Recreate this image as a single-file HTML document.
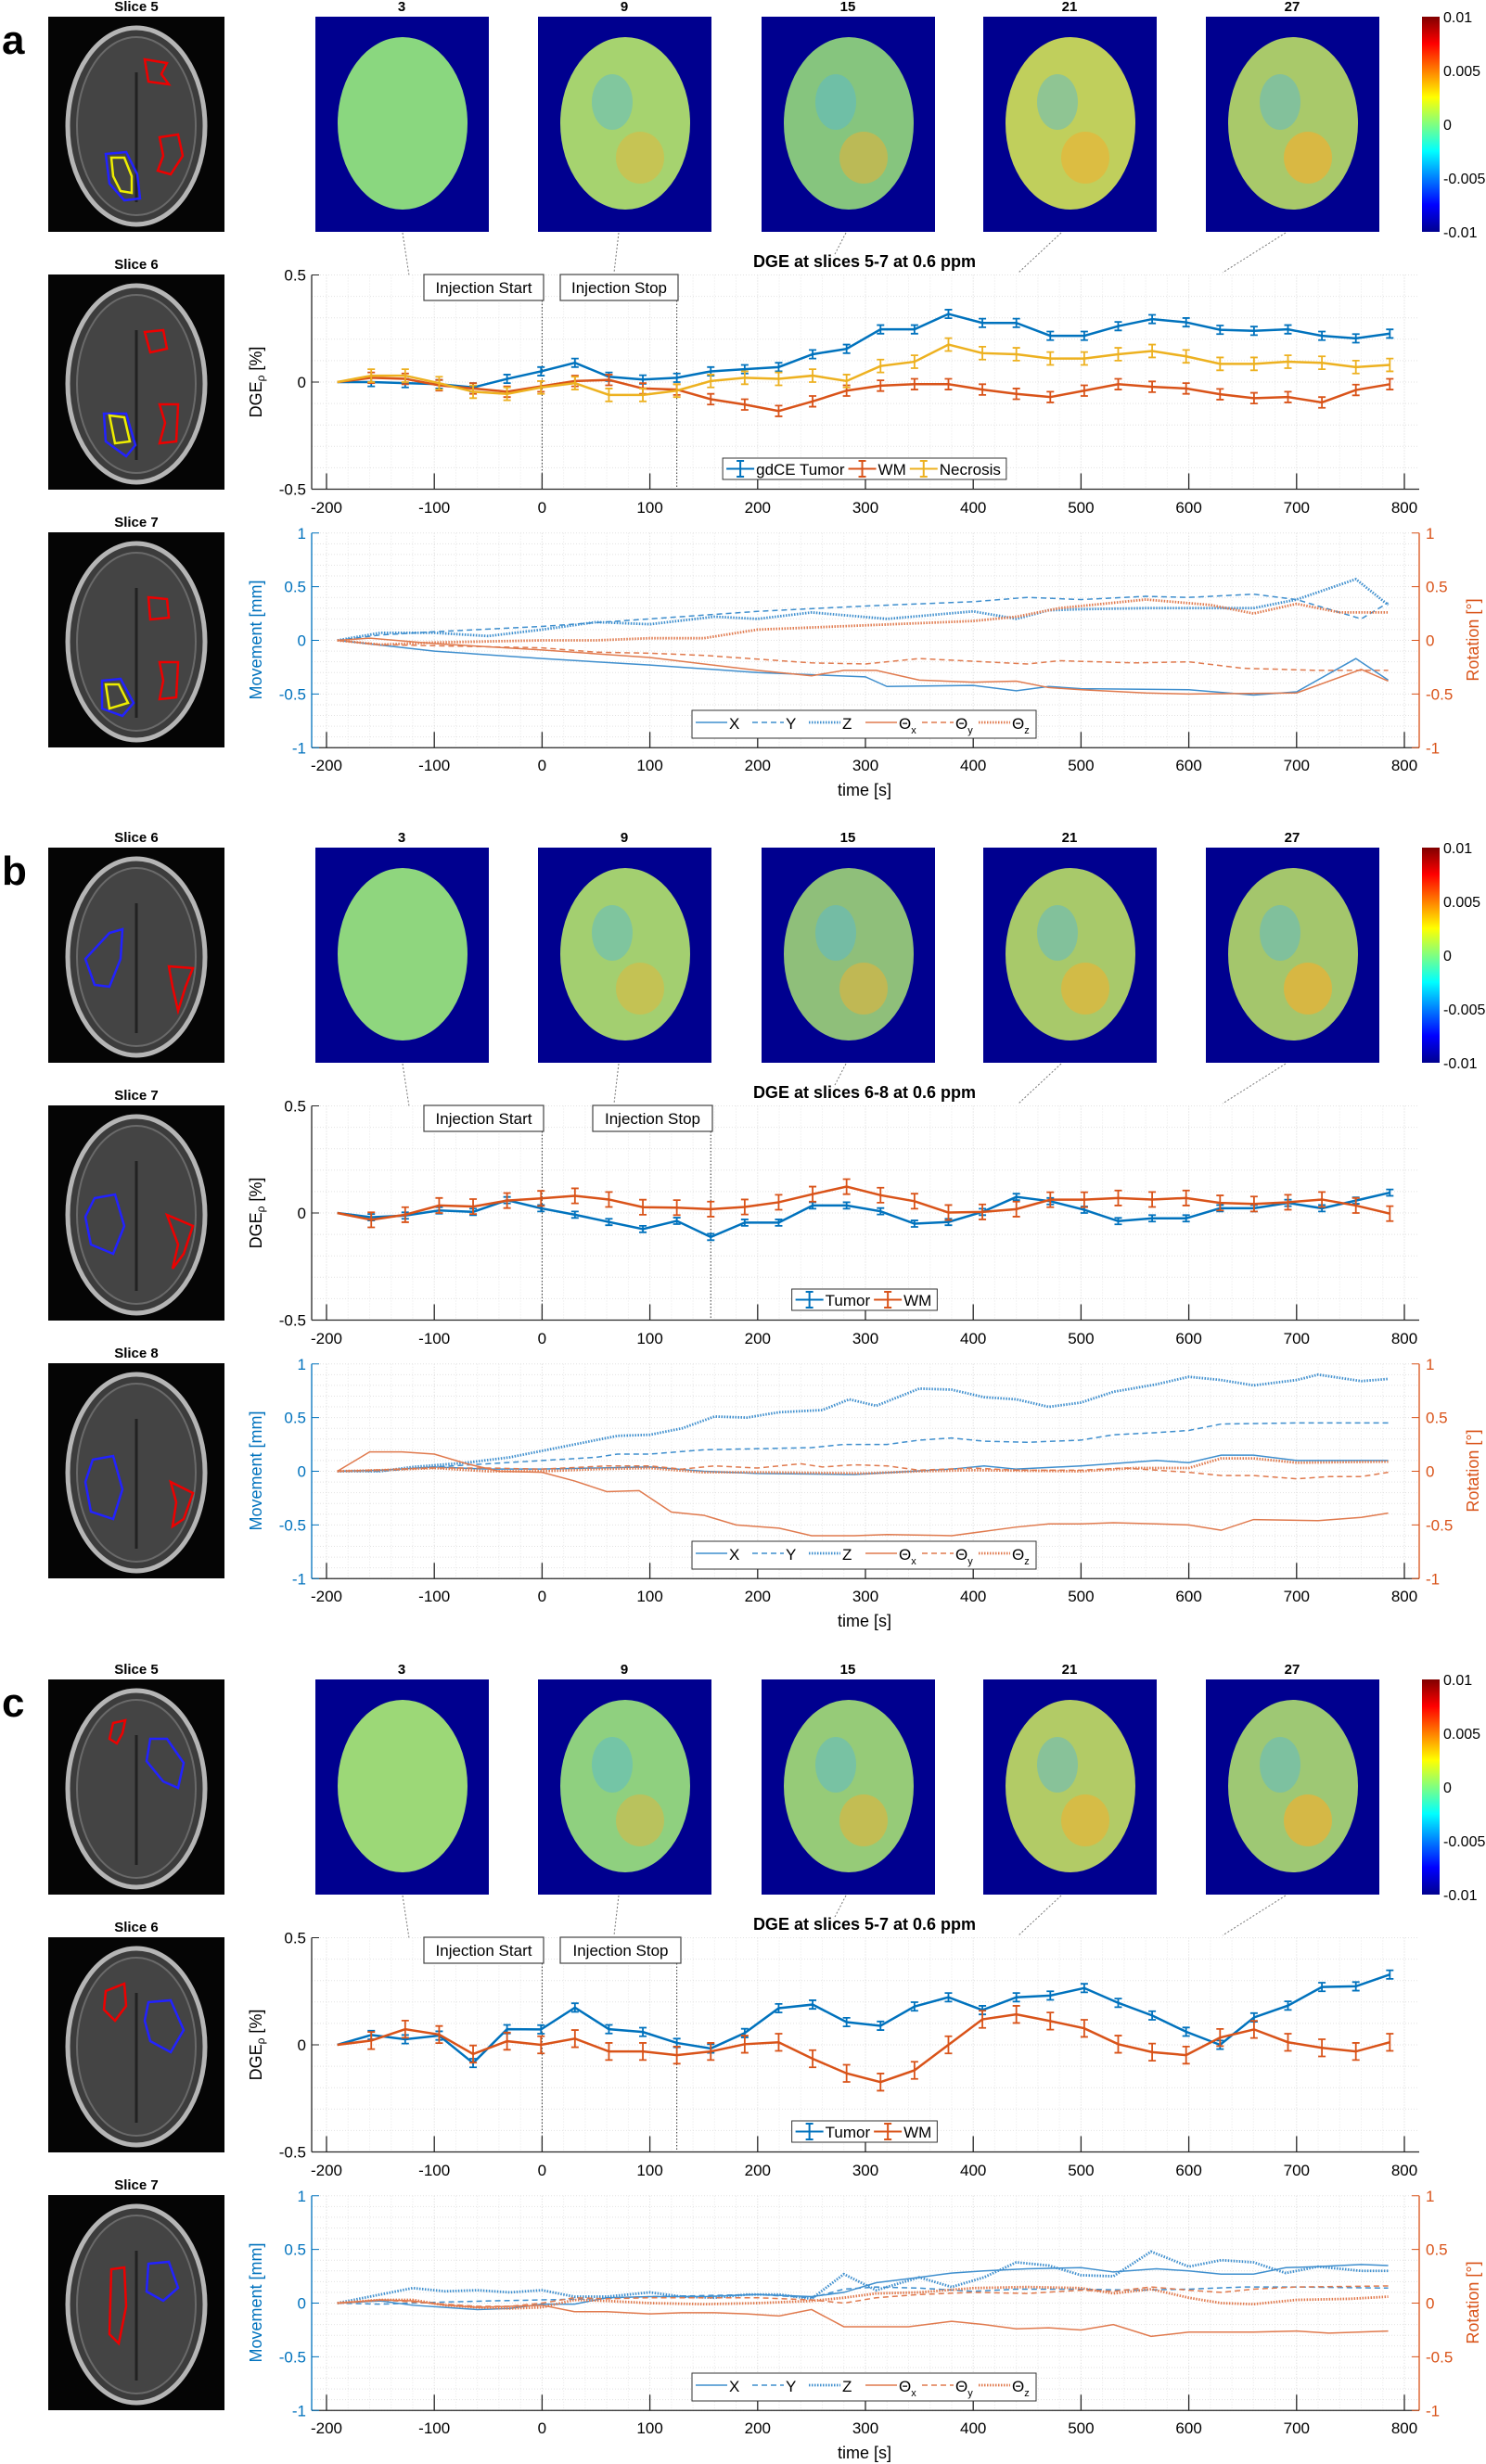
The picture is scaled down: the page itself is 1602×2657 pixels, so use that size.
<!DOCTYPE html>
<html><head><meta charset="utf-8">
<style>
html,body{margin:0;padding:0;background:#fff;}
svg{display:block;font-family:"Liberation Sans Narrow","Liberation Sans",sans-serif;}
</style></head>
<body>
<svg id="fig" width="1602" height="2657" viewBox="0 0 1602 2657" xmlns="http://www.w3.org/2000/svg"></svg>
<script>
// ---------- shared time grid ----------
const T = [-190,-158.5,-127,-95.5,-64,-32.5,-1,30.5,62,93.5,125,156.5,188,219.5,251,282.5,314,345.5,377,408.5,440,471.5,503,534.5,566,597.5,629,660.5,692,723.5,755,786.5];
const xTicks = [-200,-100,0,100,200,300,400,500,600,700,800];
const dgeTicks = [0.5,0,-0.5];
const motTicks = [1,0.5,0,-0.5,-1];
const cbarTicks = ['0.01','0.005','0','-0.005','-0.01'];
const heatLabels = ['3','9','15','21','27'];

// ---------- panel a ----------
const aTumor = [0,0,-0.005,-0.01,-0.025,0.015,0.05,0.09,0.025,0.012,0.02,0.05,0.06,0.07,0.13,0.155,0.246,0.246,0.318,0.276,0.276,0.216,0.216,0.261,0.294,0.279,0.244,0.239,0.246,0.216,0.204,0.226];
const aWM = [0,0.02,0.015,-0.015,-0.03,-0.045,-0.02,0.005,0.01,-0.03,-0.035,-0.08,-0.105,-0.135,-0.09,-0.04,-0.017,-0.01,-0.01,-0.035,-0.055,-0.07,-0.04,-0.01,-0.022,-0.03,-0.057,-0.075,-0.07,-0.095,-0.037,-0.01];
const aNec = [0,0.03,0.03,-0.005,-0.045,-0.055,-0.025,-0.005,-0.06,-0.06,-0.04,0.005,0.02,0.015,0.03,0.005,0.075,0.095,0.175,0.135,0.13,0.11,0.11,0.13,0.145,0.12,0.085,0.085,0.095,0.09,0.07,0.08];
const aErr = [0.02,0.025,0.03];
const aX = [[-190,0],[-100,-0.1],[0,-0.17],[100,-0.23],[200,-0.3],[300,-0.34],[320,-0.43],[400,-0.42],[440,-0.47],[470,-0.43],[500,-0.45],[600,-0.46],[660,-0.51],[700,-0.48],[755,-0.17],[785,-0.37]];
const aY = [[-190,0],[-150,0.05],[-100,0.08],[0,0.13],[100,0.2],[200,0.27],[300,0.32],[400,0.36],[450,0.4],[500,0.38],[560,0.41],[600,0.4],[660,0.43],[700,0.38],[760,0.2],[785,0.35]];
const aZ = [[-190,0],[-150,0.07],[-100,0.07],[-50,0.04],[0,0.1],[50,0.17],[100,0.15],[160,0.22],[200,0.2],[250,0.26],[320,0.2],[400,0.27],[440,0.2],[470,0.28],[500,0.29],[560,0.3],[660,0.3],[700,0.38],[755,0.57],[785,0.33]];
const aTx = [[-190,0],[-160,0.02],[-100,-0.03],[0,-0.09],[100,-0.16],[200,-0.28],[250,-0.33],[280,-0.28],[310,-0.28],[350,-0.37],[400,-0.39],[440,-0.38],[470,-0.44],[500,-0.46],[560,-0.49],[600,-0.5],[700,-0.49],[760,-0.27],[785,-0.38]];
const aTy = [[-190,0],[-150,-0.04],[-100,-0.05],[0,-0.07],[50,-0.11],[100,-0.12],[150,-0.14],[250,-0.21],[300,-0.22],[350,-0.17],[450,-0.22],[480,-0.19],[550,-0.21],[600,-0.2],[650,-0.26],[720,-0.28],[785,-0.28]];
const aTz = [[-190,0],[-150,-0.04],[-100,-0.02],[0,0],[50,0],[100,0.02],[150,0.02],[200,0.1],[250,0.12],[300,0.14],[400,0.18],[440,0.22],[480,0.3],[560,0.38],[620,0.33],[660,0.25],[700,0.34],[740,0.26],[785,0.26]];

// ---------- panel b ----------
const bTumor = [0,-0.02,-0.012,0.012,0.005,0.06,0.022,-0.008,-0.042,-0.075,-0.037,-0.112,-0.045,-0.045,0.035,0.035,0.008,-0.05,-0.042,0.005,0.075,0.055,0.015,-0.038,-0.025,-0.025,0.022,0.022,0.047,0.022,0.058,0.095];
const bWM = [0,-0.032,-0.008,0.035,0.03,0.058,0.068,0.08,0.063,0.027,0.025,0.018,0.028,0.05,0.088,0.123,0.083,0.055,0.002,0.005,0.018,0.062,0.062,0.07,0.063,0.07,0.047,0.042,0.05,0.063,0.035,-0.003];
const bErr = [0.015,0.035];
const bX = [[-190,0],[-150,0.01],[-100,0.04],[-50,0.02],[0,0.02],[50,0.03],[100,0.04],[150,0],[200,-0.02],[290,-0.03],[380,0.02],[410,0.05],[440,0.02],[500,0.05],[570,0.1],[600,0.08],[630,0.15],[660,0.15],[700,0.1],[785,0.1]];
const bY = [[-190,0],[-150,0],[-100,0.04],[-50,0.07],[0,0.1],[50,0.13],[70,0.16],[100,0.16],[150,0.2],[250,0.22],[280,0.25],[320,0.25],[350,0.29],[380,0.31],[410,0.28],[450,0.27],[500,0.29],[530,0.34],[570,0.36],[600,0.38],[630,0.44],[700,0.45],[785,0.45]];
const bZ = [[-190,0],[-150,0],[-120,0.04],[-70,0.08],[-30,0.13],[0,0.19],[30,0.25],[70,0.33],[100,0.34],[130,0.4],[160,0.51],[190,0.5],[220,0.55],[260,0.57],[285,0.67],[310,0.61],[350,0.77],[380,0.76],[410,0.69],[440,0.67],[470,0.6],[500,0.64],[530,0.74],[570,0.81],[600,0.88],[630,0.85],[660,0.8],[700,0.85],[720,0.9],[760,0.84],[785,0.86]];
const bTx = [[-190,0],[-160,0.18],[-130,0.18],[-100,0.16],[-70,0.07],[-40,0],[0,-0.01],[30,-0.09],[60,-0.19],[90,-0.18],[120,-0.38],[150,-0.41],[180,-0.5],[220,-0.53],[250,-0.6],[290,-0.6],[320,-0.59],[380,-0.6],[410,-0.56],[440,-0.52],[470,-0.49],[500,-0.49],[530,-0.48],[570,-0.49],[600,-0.5],[630,-0.55],[660,-0.45],[720,-0.46],[760,-0.43],[785,-0.39]];
const bTy = [[-190,0],[-130,0.02],[-100,0.03],[-50,0.03],[0,0.02],[60,0.05],[100,0.05],[130,0.02],[160,0.05],[200,0.03],[240,0.07],[260,0.04],[290,0.06],[320,0.05],[350,0.01],[400,0.03],[440,0.01],[500,0.01],[540,0.03],[600,-0.01],[630,-0.04],[660,-0.04],[700,-0.07],[730,-0.05],[760,-0.05],[785,-0.01]];
const bTz = [[-190,0],[-150,0.01],[-100,0.03],[-50,0],[0,0],[50,0.02],[100,0.03],[150,-0.01],[200,-0.01],[300,-0.02],[350,0],[400,0.01],[500,0],[550,0.03],[600,0.03],[630,0.12],[660,0.12],[700,0.08],[785,0.09]];

// ---------- panel c ----------
const cTumor = [0,0.046,0.026,0.043,-0.085,0.073,0.072,0.174,0.073,0.06,0.009,-0.017,0.055,0.171,0.188,0.106,0.089,0.179,0.222,0.162,0.222,0.23,0.265,0.196,0.137,0.061,0,0.128,0.183,0.27,0.273,0.328];
const cWM = [0,0.02,0.073,0.048,-0.043,0.017,0,0.029,-0.031,-0.031,-0.048,-0.031,0.003,0.012,-0.065,-0.133,-0.174,-0.119,0,0.119,0.142,0.111,0.077,0.003,-0.034,-0.048,0.034,0.072,0.012,-0.014,-0.031,0.012];
const cErr = [0.02,0.04];
const cX = [[-190,0],[-150,0.02],[-120,-0.02],[-90,-0.04],[-60,-0.06],[-30,-0.05],[0,-0.01],[30,-0.01],[60,0.05],[100,0.06],[150,0.06],[200,0.08],[250,0.06],[280,0.1],[310,0.19],[350,0.24],[380,0.28],[410,0.3],[450,0.32],[500,0.33],[530,0.29],[570,0.32],[600,0.3],[630,0.27],[660,0.27],[690,0.33],[720,0.34],[760,0.36],[785,0.35]];
const cY = [[-190,0],[-150,-0.01],[-120,0],[-90,0.01],[-50,0.02],[0,0.03],[50,0.04],[100,0.06],[150,0.07],[200,0.08],[250,0.05],[280,0.13],[310,0.15],[350,0.14],[400,0.11],[440,0.13],[500,0.13],[550,0.12],[600,0.13],[650,0.15],[700,0.15],[785,0.14]];
const cZ = [[-190,0],[-150,0.08],[-120,0.14],[-90,0.11],[-60,0.12],[-30,0.1],[0,0.12],[30,0.06],[60,0.06],[100,0.1],[130,0.06],[160,0.05],[190,0.08],[220,0.08],[250,0.04],[280,0.27],[310,0.12],[350,0.24],[380,0.15],[410,0.24],[440,0.38],[470,0.35],[500,0.26],[530,0.25],[565,0.48],[600,0.34],[630,0.4],[660,0.38],[690,0.28],[720,0.34],[760,0.3],[785,0.3]];
const cTx = [[-190,0],[-150,0.03],[-120,0.02],[-90,-0.02],[-60,-0.04],[-30,-0.03],[0,-0.02],[30,-0.08],[60,-0.08],[100,-0.1],[130,-0.09],[160,-0.09],[190,-0.1],[220,-0.12],[250,-0.06],[280,-0.22],[340,-0.22],[380,-0.17],[410,-0.2],[440,-0.24],[470,-0.23],[500,-0.25],[530,-0.2],[565,-0.31],[600,-0.27],[660,-0.27],[700,-0.26],[730,-0.28],[785,-0.26]];
const cTy = [[-190,0],[-150,0.03],[-120,0.01],[-90,-0.01],[-60,-0.03],[-30,-0.03],[0,0],[30,0.05],[60,0.04],[100,0.05],[150,0.05],[200,0.05],[250,0.03],[280,0],[310,0.05],[350,0.08],[400,0.1],[450,0.09],[500,0.12],[530,0.11],[565,0.15],[600,0.12],[630,0.1],[660,0.13],[700,0.15],[785,0.16]];
const cTz = [[-190,0],[-150,0.03],[-120,0.03],[-90,-0.02],[-60,-0.04],[-30,-0.05],[0,-0.04],[30,0.03],[60,0.02],[100,0],[150,-0.01],[200,0],[250,0.02],[280,0.05],[310,0.09],[350,0.1],[400,0.14],[450,0.15],[500,0.14],[530,0.09],[565,0.13],[600,0.05],[630,0],[660,-0.01],[700,0.03],[750,0.04],[785,0.06]];

const BLUE='#0072BD', ORANGE='#D95319', YELLOW='#EDB120';
const MBLUE='#3f8fce', MORANGE='#e07a4e';
const NS='http://www.w3.org/2000/svg';
const svg=document.getElementById('fig');
function mk(tag,attrs,parent){const e=document.createElementNS(NS,tag);for(const k in attrs)e.setAttribute(k,attrs[k]);(parent||svg).appendChild(e);return e;}
function tx(str,x,y,attrs,parent){const e=mk('text',Object.assign({x:x,y:y},attrs),parent);e.textContent=str;return e;}
const xS = t => 352 + (t+200)*1.162;

const panels = [
 {off:0, letter:'a', slices:['Slice  5','Slice  6','Slice  7'], title:'DGE at slices 5-7 at 0.6 ppm', stop:125, stopBox:[604,731],
  dge:[{n:'gdCE Tumor',c:BLUE,v:aTumor,e:aErr[0]},{n:'WM',c:ORANGE,v:aWM,e:aErr[1]},{n:'Necrosis',c:YELLOW,v:aNec,e:aErr[2]}],
  mot:[aX,aY,aZ,aTx,aTy,aTz], heat:['#8ad77f','#a6d36f','#86c57e','#c0cf5c','#a9c96a'],
  roi:[[['#e00',[[104,46],[128,50],[122,62],[130,73],[108,70]]],['#e00',[[120,130],[140,127],[145,150],[132,170],[118,166],[124,150]]],['#22f',[[62,148],[84,146],[96,170],[99,196],[82,198],[66,180]]],['#ee0',[[68,152],[82,152],[90,172],[90,190],[78,188],[70,172]]]],
       [['#e00',[[104,62],[124,60],[128,80],[110,84]]],['#e00',[[120,140],[140,140],[138,180],[120,182],[126,160]]],['#22f',[[60,150],[84,150],[94,184],[84,196],[62,180]]],['#ee0',[[66,152],[82,154],[88,180],[72,182]]]],
       [['#e00',[[108,70],[128,72],[130,92],[110,94]]],['#e00',[[120,140],[140,140],[138,178],[120,180],[124,160]]],['#22f',[[58,160],[78,158],[92,184],[80,198],[58,190]]],['#ee0',[[62,164],[76,164],[86,184],[66,190]]]]]},
 {off:896, letter:'b', slices:['Slice  6','Slice  7','Slice  8'], title:'DGE at slices 6-8 at 0.6 ppm', stop:156.5, stopBox:[639,768],
  dge:[{n:'Tumor',c:BLUE,v:bTumor,e:bErr[0]},{n:'WM',c:ORANGE,v:bWM,e:bErr[1]}],
  mot:[bX,bY,bZ,bTx,bTy,bTz], heat:['#8fd67e','#a3cf70','#8fbf7a','#a8c96a','#a4c66c'],
  roi:[[['#22f',[[66,92],[80,88],[78,120],[66,150],[50,148],[40,120]]],['#e00',[[130,128],[156,130],[148,150],[140,176],[134,150]]]],
       [['#22f',[[50,100],[72,96],[82,130],[70,160],[46,150],[40,120]]],['#e00',[[128,118],[156,130],[146,160],[134,176],[140,150]]]],
       [['#22f',[[48,104],[70,100],[80,136],[70,168],[46,160],[40,128]]],['#e00',[[132,128],[156,140],[146,168],[134,176],[138,150]]]]]},
 {off:1793, letter:'c', slices:['Slice  5','Slice  6','Slice  7'], title:'DGE at slices 5-7 at 0.6 ppm', stop:125, stopBox:[604,734],
  dge:[{n:'Tumor',c:BLUE,v:cTumor,e:cErr[0]},{n:'WM',c:ORANGE,v:cWM,e:cErr[1]}],
  mot:[cX,cY,cZ,cTx,cTy,cTz], heat:['#9cd877','#8fd07f','#96cb78','#b2cb66','#9ec874'],
  roi:[[['#e00',[[70,47],[83,44],[80,58],[74,69],[66,64]]],['#22f',[[110,64],[128,64],[146,90],[140,117],[124,110],[106,88]]]],
       [['#e00',[[62,58],[82,50],[84,74],[72,90],[60,78]]],['#22f',[[108,70],[132,68],[146,100],[132,124],[110,112],[104,90]]]],
       [['#e00',[[68,80],[82,78],[84,120],[76,160],[66,150]]],['#22f',[[108,74],[130,72],[140,100],[124,114],[106,104]]]]]}
];

// colorbar gradient
const defs=mk('defs',{});
const lg=mk('linearGradient',{id:'jet',x1:0,y1:1,x2:0,y2:0},defs);
[['0','#00008F'],['0.125','#0000FF'],['0.375','#00FFFF'],['0.5','#80FF80'],['0.625','#FFFF00'],['0.875','#FF0000'],['1','#800000']].forEach(s=>mk('stop',{offset:s[0],'stop-color':s[1]},lg));

panels.forEach((P,pi)=>{
  const o=P.off;
  const g=mk('g',{});
  
  
  const L=tx(P.letter,2,o+58,{'font-size':44,'font-weight':'bold','font-family':'Liberation Sans Narrow,Liberation Sans,sans-serif'},g);
  
  

  // slice thumbnails
  [18,296,574].forEach((sy,si)=>{
    const sg=mk('g',{},g);
    
    
    tx(P.slices[si],147,o+sy-6,{'font-size':15,'font-weight':'bold','text-anchor':'middle'},sg);
    mk('rect',{x:52,y:o+sy,width:190,height:232,fill:'#050505'},sg);
    mk('ellipse',{cx:147,cy:o+sy+118,rx:74,ry:106,fill:'#3c3c3c',stroke:'#b5b5b5','stroke-width':5},sg);
    mk('ellipse',{cx:147,cy:o+sy+118,rx:64,ry:96,fill:'#444',stroke:'#6a6a6a','stroke-width':2},sg);
    mk('path',{d:`M147 ${o+sy+60} L147 ${o+sy+200}`,stroke:'#222','stroke-width':3},sg);
    P.roi[si].forEach(r=>{
      const pts=r[1].map(p=>(52+p[0])+','+(o+sy+p[1])).join(' ');
      const pg=mk('polygon',{points:pts,fill:'none',stroke:r[0],'stroke-width':2.5},sg);
      
      
    });
  });

  // heatmaps
  const hx=[340,580,821,1060,1300];
  hx.forEach((x0,hi)=>{
    const hg=mk('g',{},g);
    
    
    tx(heatLabels[hi],x0+93,o+12,{'font-size':15,'font-weight':'bold','text-anchor':'middle'},hg);
    mk('rect',{x:x0,y:o+18,width:187,height:232,fill:'#00008F'},hg);
    mk('ellipse',{cx:x0+94,cy:o+133,rx:70,ry:93,fill:P.heat[hi]},hg);
    if(hi>0){
      mk('ellipse',{cx:x0+80,cy:o+110,rx:22,ry:30,fill:'#55b8d8',opacity:0.45},hg);
      mk('ellipse',{cx:x0+110,cy:o+170,rx:26,ry:28,fill:'#f0b030',opacity:0.35+0.08*hi},hg);
    }
  });
  // connector lines
  const cs=[[434,251,441,297],[667,251,662,294],[912,251,899,276],[1144,251,1098,294],[1386,251,1318,294]];
  cs.forEach(c=>{const l=mk('line',{x1:c[0],y1:o+c[1],x2:c[2],y2:o+c[3],stroke:'#777','stroke-width':1,'stroke-dasharray':'2,2'},g);
    
    });

  // colorbar
  const cb=mk('g',{},g);
  
  
  mk('rect',{x:1533,y:o+18,width:19,height:232,fill:'url(#jet)'},cb);
  cbarTicks.forEach((s,i)=>tx(s,1556,o+24+i*58,{'font-size':16},cb));

  // ---------- DGE chart ----------
  const yD=v=>o+412-v*231;
  const dg=mk('g',{},g);
  
  
  for(let t=-200;t<=800;t+=20){mk('line',{x1:xS(t),x2:xS(t),y1:yD(0.5),y2:yD(-0.5),stroke:t%100===0?'#d8d8d8':'#e8e8e8','stroke-dasharray':'1,2','stroke-width':1},dg);}
  for(let k=-5;k<=5;k++){mk('line',{x1:336,x2:1530,y1:yD(k/10),y2:yD(k/10),stroke:'#e2e2e2','stroke-dasharray':'1,2'},dg);}
  mk('line',{x1:336,x2:336,y1:yD(0.5),y2:yD(-0.5),stroke:'#262626','stroke-width':1.3},dg);
  mk('line',{x1:336,x2:1530,y1:yD(-0.5),y2:yD(-0.5),stroke:'#262626','stroke-width':1.3},dg);
  xTicks.forEach(t=>{mk('line',{x1:xS(t),x2:xS(t),y1:yD(-0.5),y2:yD(-0.5)-17,stroke:'#262626','stroke-width':1.3},dg);
    tx(String(t),xS(t),o+553,{'font-size':17,'text-anchor':'middle'},dg);});
  dgeTicks.forEach(v=>{mk('line',{x1:336,x2:344,y1:yD(v),y2:yD(v),stroke:'#262626'},dg);
    tx(String(v),330,yD(v)+6,{'font-size':17,'text-anchor':'end'},dg);});
  const yl=tx('DGE',0,0,{'font-size':18,'text-anchor':'middle',transform:`translate(282,${o+412}) rotate(-90)`},dg);
  const sub=mk('tspan',{'font-size':12,dy:3},yl); sub.textContent='ρ';
  const rest=mk('tspan',{dy:-3},yl); rest.textContent=' [%]';
  
  
  const tt=tx(P.title,932,o+288,{'font-size':18,'font-weight':'bold','text-anchor':'middle'},dg);
  
  
  // injection markers
  [[0,457,586,'Injection Start'],[P.stop,P.stopBox[0],P.stopBox[1],'Injection Stop']].forEach(m=>{
    mk('line',{x1:xS(m[0]),x2:xS(m[0]),y1:o+324,y2:yD(-0.5),stroke:'#333','stroke-dasharray':'1.5,2'},dg);
    const b=mk('rect',{x:m[1],y:o+296,width:m[2]-m[1],height:28,fill:'#fff',stroke:'#444','stroke-width':1.2},dg);
    
    
    tx(m[3],(m[1]+m[2])/2,o+316,{'font-size':17,'text-anchor':'middle'},dg);
  });
  // series
  P.dge.forEach(s=>{
    const sg=mk('g',{},dg);
    
    
    mk('polyline',{points:s.v.map((v,i)=>xS(T[i])+','+yD(v)).join(' '),fill:'none',stroke:s.c,'stroke-width':2.5},sg);
    s.v.forEach((v,i)=>{ if(i===0) return; const x=xS(T[i]);
      const eb=mk('path',{d:`M${x} ${yD(v+s.e)}V${yD(v-s.e)}M${x-4} ${yD(v+s.e)}h8M${x-4} ${yD(v-s.e)}h8`,stroke:s.c,'stroke-width':1.8,fill:'none'},sg);
      
      });
  });
  // legend
  const lgG=mk('g',{},dg);
  
  
  const lbox=mk('rect',{y:o+494,height:23,fill:'#fff',stroke:'#333','stroke-width':1},lgG);
  let cx=0; const items=[];
  P.dge.forEach(s=>{const t=tx(s.n,0,o+512,{'font-size':17},lgG); items.push([s,t,cx]); cx+=32+t.getComputedTextLength()+4;});
  const lx0=932-(cx+6)/2; lbox.setAttribute('x',lx0); lbox.setAttribute('width',cx+6);
  items.forEach(it=>{const x=lx0+4+it[2]; it[1].setAttribute('x',x+32);
    mk('path',{d:`M${x} ${o+505.5}h30M${x+15} ${o+497}v17M${x+11} ${o+497}h8M${x+11} ${o+514}h8`,stroke:it[0].c,'stroke-width':2,fill:'none'},lgG);});

  // ---------- Motion chart ----------
  const yM=v=>o+690.5-v*115.75;
  const mg=mk('g',{},g);
  
  
  for(let t=-200;t<=800;t+=20){mk('line',{x1:xS(t),x2:xS(t),y1:yM(1),y2:yM(-1),stroke:t%100===0?'#d8d8d8':'#e8e8e8','stroke-dasharray':'1,2'},mg);}
  for(let k=-10;k<=10;k++){mk('line',{x1:336,x2:1530,y1:yM(k/10),y2:yM(k/10),stroke:'#e2e2e2','stroke-dasharray':'1,2'},mg);}
  mk('line',{x1:336,x2:336,y1:yM(1),y2:yM(-1),stroke:BLUE,'stroke-width':1.3},mg);
  mk('line',{x1:1530,x2:1530,y1:yM(1),y2:yM(-1),stroke:ORANGE,'stroke-width':1.3},mg);
  mk('line',{x1:336,x2:1530,y1:yM(-1),y2:yM(-1),stroke:'#262626','stroke-width':1.3},mg);
  xTicks.forEach(t=>{mk('line',{x1:xS(t),x2:xS(t),y1:yM(-1),y2:yM(-1)-17,stroke:'#262626','stroke-width':1.3},mg);
    tx(String(t),xS(t),o+831,{'font-size':17,'text-anchor':'middle'},mg);});
  motTicks.forEach(v=>{
    mk('line',{x1:336,x2:344,y1:yM(v),y2:yM(v),stroke:BLUE},mg);
    mk('line',{x1:1522,x2:1530,y1:yM(v),y2:yM(v),stroke:ORANGE},mg);
    tx(String(v),330,yM(v)+6,{'font-size':17,'text-anchor':'end',fill:BLUE},mg);
    tx(String(v),1537,yM(v)+6,{'font-size':17,fill:ORANGE},mg);});
  const ml=tx('Movement [mm]',0,0,{'font-size':18,'text-anchor':'middle',fill:BLUE,transform:`translate(282,${o+690}) rotate(-90)`,'font-family':'Liberation Sans,sans-serif'},mg);
  
  
  const rl=tx('Rotation [°]',0,0,{'font-size':18,'text-anchor':'middle',fill:ORANGE,transform:`translate(1594,${o+690}) rotate(-90)`,'font-family':'Liberation Sans,sans-serif'},mg);
  
  
  const tl=tx('time [s]',932,o+858,{'font-size':18,'text-anchor':'middle'},mg);
  
  
  const styles=[['X',MBLUE,'none',1.5],['Y',MBLUE,'6,4',1.5],['Z',MBLUE,'1.5,1.5',2.8],['x',MORANGE,'none',1.5],['y',MORANGE,'6,4',1.5],['z',MORANGE,'1.5,1.5',2.8]];
  P.mot.forEach((d,k)=>{const st=styles[k];
    const pl=mk('polyline',{points:d.map(p=>xS(p[0])+','+yM(p[1])).join(' '),fill:'none',stroke:st[1],'stroke-dasharray':st[2],'stroke-width':st[3]},mg);
    
    });
  // motion legend
  const ml2=mk('g',{},mg);
  
  
  mk('rect',{x:746,y:o+766,width:371,height:30,fill:'#fff',stroke:'#333'},ml2);
  styles.forEach((st,k)=>{const x=750+k*61;
    mk('line',{x1:x,x2:x+34,y1:o+779,y2:o+779,stroke:st[1],'stroke-dasharray':st[2],'stroke-width':st[3]},ml2);
    if(k<3){tx(st[0],x+36,o+786,{'font-size':17},ml2);}
    else{const t=tx('Θ',x+36,o+786,{'font-size':17},ml2);const s=mk('tspan',{'font-size':11,dy:5},t);s.textContent=st[0];}
  });
});
</script>
</body></html>
